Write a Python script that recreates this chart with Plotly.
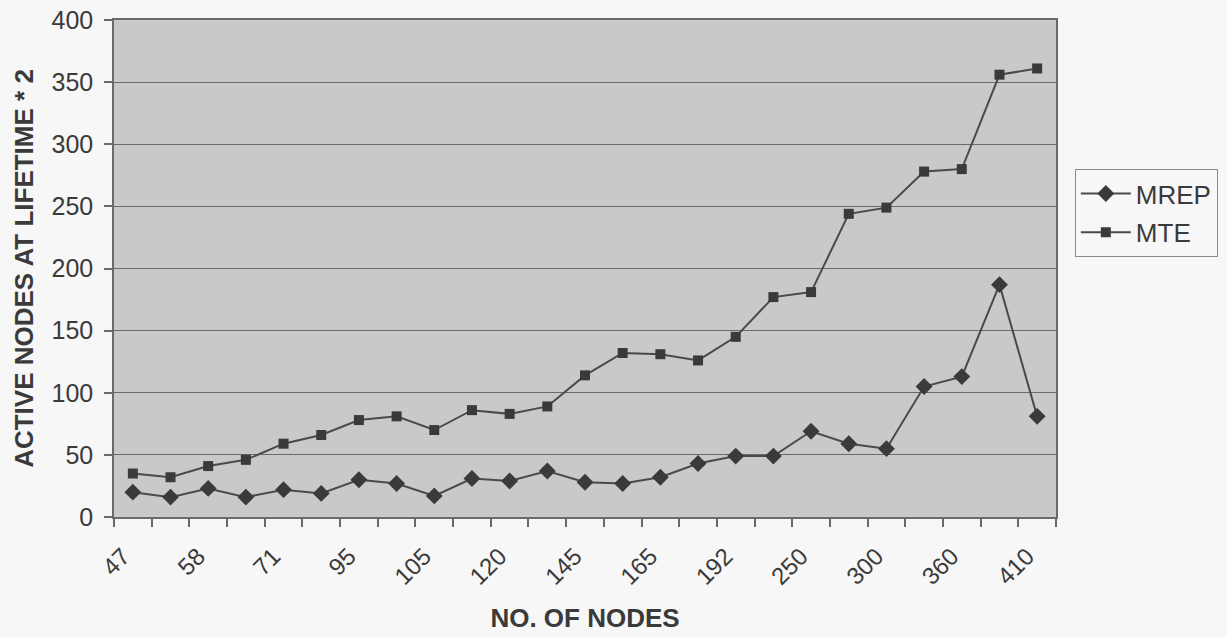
import plotly.graph_objects as go

# Node counts labelled on the x axis (every second category carries a label)
node_labels = ["47", "58", "71", "95", "105", "120", "145", "165", "192", "250", "300", "360", "410"]

# Active nodes at lifetime * 2, one value per simulation run (25 runs)
mrep = [20, 16, 23, 16, 22, 19, 30, 27, 17, 31, 29, 37, 28, 27, 32, 43, 49, 49, 69, 59, 55, 105, 113, 187, 81]
mte = [35, 32, 41, 46, 59, 66, 78, 81, 70, 86, 83, 89, 114, 132, 131, 126, 145, 177, 181, 244, 249, 278, 280, 356, 361]

x_idx = list(range(len(mrep)))
label_pos = x_idx[::2]

FONT = "Liberation Sans"
LINE = "#4a4a4a"
MARK = "#3a3a3a"
TXT = "#3a3a3a"

fig = go.Figure()
fig.add_trace(go.Scatter(
    x=x_idx, y=mrep, name="MREP", mode="lines+markers", legendgroup="a",
    line=dict(color=LINE, width=2),
    marker=dict(symbol="diamond", size=13, color=MARK),
))
fig.add_trace(go.Scatter(
    x=x_idx, y=mte, name="MTE", mode="lines+markers", legendgroup="b",
    line=dict(color=LINE, width=2),
    marker=dict(symbol="square", size=10, color=MARK),
))

fig.update_layout(
    width=1227, height=637,
    margin=dict(l=114, r=171, t=20, b=120, autoexpand=False),
    paper_bgcolor="#f7f7f7",
    plot_bgcolor="#c9c9c9",
    font=dict(family=FONT, color=TXT, size=24),
    showlegend=True,
    legend=dict(
        x=1.02, y=0.70, xanchor="left", yanchor="top",
        font=dict(size=26, color=TXT, family=FONT),
        bgcolor="rgba(0,0,0,0)", bordercolor="#8a8a8a", borderwidth=1,
        tracegroupgap=2, traceorder="grouped", itemwidth=50,
    ),
    xaxis=dict(
        range=[-0.5, len(mrep) - 0.5],
        tickmode="array", tickvals=label_pos, ticktext=node_labels,
        tickangle=-45, ticks="", showgrid=False, zeroline=False,
        tickfont=dict(size=24, color=TXT, family=FONT),
        ticklabelstandoff=14, ticklabelshift=-10,
        showline=True, linecolor="#6a6a6a", linewidth=1.5, mirror=True,
        minor=dict(tickmode="linear", tick0=-0.5, dtick=1, ticks="outside",
                   ticklen=8, tickwidth=1.5, tickcolor="#6a6a6a", showgrid=False),
        title=dict(text="<b>NO. OF NODES</b>", standoff=20,
                   font=dict(size=26, color=TXT, family=FONT)),
    ),
    yaxis=dict(
        range=[0, 400], dtick=50, tick0=0, tickmode="linear",
        ticks="outside", ticklen=8, tickwidth=1.5, tickcolor="#6a6a6a",
        showgrid=True, gridcolor="#6a6a6a", gridwidth=1.3, zeroline=False,
        tickfont=dict(size=25, color=TXT, family=FONT),
        ticklabelstandoff=6,
        showline=True, linecolor="#6a6a6a", linewidth=1.5, mirror=True,
        title=dict(text="<b>ACTIVE NODES AT LIFETIME * 2</b>", standoff=10,
                   font=dict(size=26, color=TXT, family=FONT)),
    ),
)

fig.write_html("out.html")
